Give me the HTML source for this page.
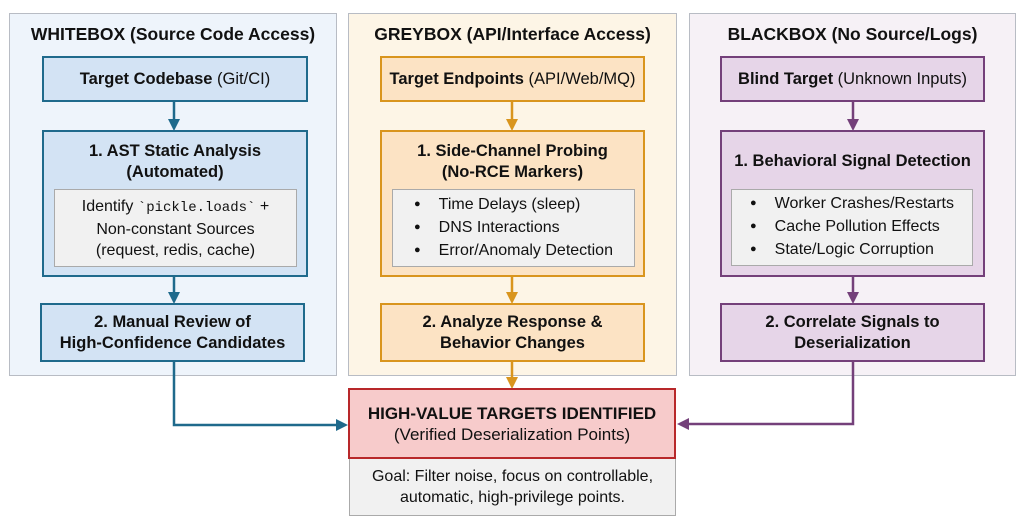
<!DOCTYPE html>
<html><head><meta charset="utf-8"><style>
body{margin:0;width:1024px;height:521px;background:#fff;position:relative;overflow:hidden;font-family:"Liberation Sans",sans-serif;color:#111}
.a{position:absolute;box-sizing:border-box;display:flex;flex-direction:column;align-items:center;justify-content:center;text-align:center}
.p{position:absolute;box-sizing:border-box;border:1.5px solid #b8bcc4}
.t{position:absolute;font-weight:bold;font-size:17.5px;text-align:center}
b{font-weight:bold}
.box{font-size:16.5px;line-height:21px;border:2.5px solid}
.in{background:#f1f1f1;border:1.5px solid #aaa;font-size:16px;line-height:21px}
ul{margin:0;padding:0;list-style:none;text-align:left}
ul li:before{content:"●";font-size:11px;margin-right:18px;position:relative;top:-2px}
</style></head><body>
<div class="p" style="left:9px;top:13px;width:328px;height:363px;background:#eef4fb"></div>
<div class="p" style="left:348px;top:13px;width:329px;height:363px;background:#fdf5e6"></div>
<div class="p" style="left:689px;top:13px;width:327px;height:363px;background:#f6f1f6"></div>
<div class="t" style="left:9px;top:24px;width:328px">WHITEBOX (Source Code Access)</div>
<div class="t" style="left:348px;top:24px;width:329px">GREYBOX (API/Interface Access)</div>
<div class="t" style="left:689px;top:24px;width:327px">BLACKBOX (No Source/Logs)</div>

<svg style="position:absolute;left:0;top:0" width="1024" height="521">
<defs>
<marker id="mb" markerWidth="12" markerHeight="12" refX="9" refY="6" orient="auto" markerUnits="userSpaceOnUse"><path d="M0,0L12,6L0,12z" fill="#1f6a8c"/></marker>
<marker id="mo" markerWidth="12" markerHeight="12" refX="9" refY="6" orient="auto" markerUnits="userSpaceOnUse"><path d="M0,0L12,6L0,12z" fill="#d9951e"/></marker>
<marker id="mp" markerWidth="12" markerHeight="12" refX="9" refY="6" orient="auto" markerUnits="userSpaceOnUse"><path d="M0,0L12,6L0,12z" fill="#74407a"/></marker>
</defs>
<g stroke="#1f6a8c" stroke-width="2.5" fill="none">
<path d="M174,102V128" marker-end="url(#mb)"/><path d="M174,277V301" marker-end="url(#mb)"/>
<path d="M174,362V425H345" marker-end="url(#mb)"/></g>
<g stroke="#d9951e" stroke-width="2.5" fill="none">
<path d="M512,102V128" marker-end="url(#mo)"/><path d="M512,277V301" marker-end="url(#mo)"/>
<path d="M512,362V386" marker-end="url(#mo)"/></g>
<g stroke="#74407a" stroke-width="2.5" fill="none">
<path d="M853,102V128" marker-end="url(#mp)"/><path d="M853,277V301" marker-end="url(#mp)"/>
<path d="M853,362V424H680" marker-end="url(#mp)"/></g>
</svg>

<div class="a box" style="left:42px;top:56px;width:266px;height:46px;background:#d3e3f4;border-color:#1f6a8c"><div><b>Target Codebase</b> (Git/CI)</div></div>
<div class="a box" style="left:42px;top:130px;width:266px;height:147px;background:#d3e3f4;border-color:#1f6a8c;justify-content:flex-start;padding-top:9px"><b>1. AST Static Analysis<br>(Automated)</b></div>
<div class="a in" style="left:54px;top:189px;width:243px;height:78px"><div>Identify <span style="font-family:'Liberation Mono',monospace;font-size:14px">`pickle.loads`</span> +<br>Non-constant Sources<br>(request, redis, cache)</div></div>
<div class="a box" style="left:40px;top:303px;width:265px;height:59px;background:#d3e3f4;border-color:#1f6a8c"><b>2. Manual Review of<br>High-Confidence Candidates</b></div>

<div class="a box" style="left:380px;top:56px;width:265px;height:46px;background:#fce3c4;border-color:#d9951e"><div><b>Target Endpoints</b> (API/Web/MQ)</div></div>
<div class="a box" style="left:380px;top:130px;width:265px;height:147px;background:#fce3c4;border-color:#d9951e;justify-content:flex-start;padding-top:9px"><b>1. Side-Channel Probing<br>(No-RCE Markers)</b></div>
<div class="a in" style="left:392px;top:189px;width:243px;height:78px"><ul><li>Time Delays (sleep)</li><li>DNS Interactions</li><li>Error/Anomaly Detection</li></ul></div>
<div class="a box" style="left:380px;top:303px;width:265px;height:59px;background:#fce3c4;border-color:#d9951e"><b>2. Analyze Response &amp;<br>Behavior Changes</b></div>

<div class="a box" style="left:720px;top:56px;width:265px;height:46px;background:#e6d5e8;border-color:#74407a"><div><b>Blind Target</b> (Unknown Inputs)</div></div>
<div class="a box" style="left:720px;top:130px;width:265px;height:147px;background:#e6d5e8;border-color:#74407a;justify-content:flex-start;padding-top:19px"><b>1. Behavioral Signal Detection</b></div>
<div class="a in" style="left:731px;top:189px;width:242px;height:77px"><ul><li>Worker Crashes/Restarts</li><li>Cache Pollution Effects</li><li>State/Logic Corruption</li></ul></div>
<div class="a box" style="left:720px;top:303px;width:265px;height:59px;background:#e6d5e8;border-color:#74407a"><b>2. Correlate Signals to<br>Deserialization</b></div>

<div class="a box" style="left:348px;top:388px;width:328px;height:71px;background:#f7cbcb;border-color:#b8282a;font-size:17px"><b>HIGH-VALUE TARGETS IDENTIFIED</b>(Verified Deserialization Points)</div>
<div class="a" style="left:349px;top:459px;width:327px;height:57px;background:#f1f1f1;border:1.5px solid #aaa;border-top:none;font-size:16px;line-height:21px">Goal: Filter noise, focus on controllable,<br>automatic, high-privilege points.</div>
</body></html>
